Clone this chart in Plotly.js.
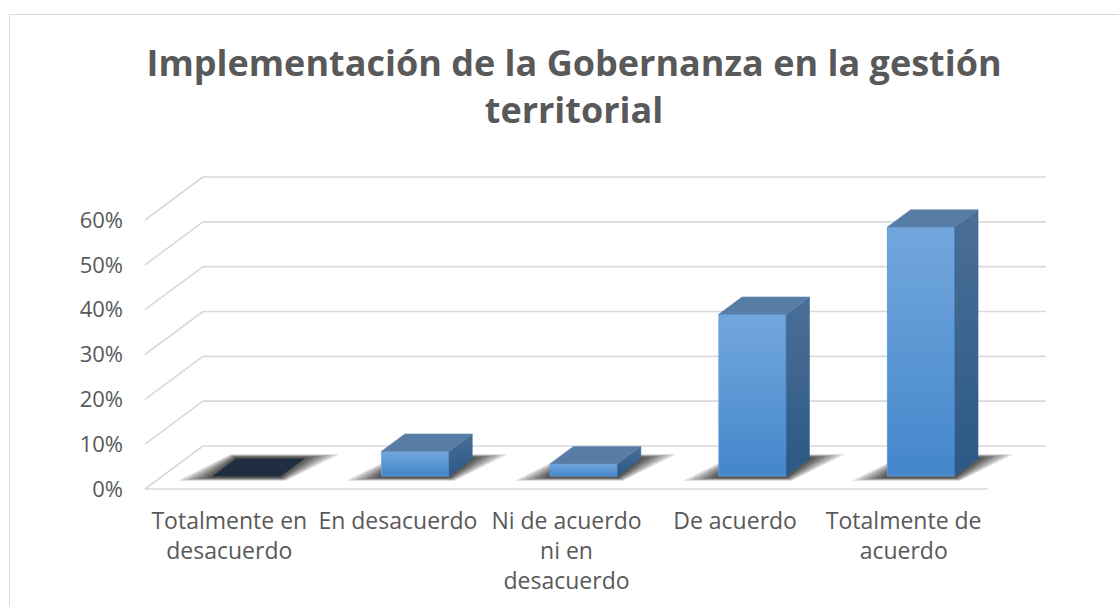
<!DOCTYPE html>
<html>
<head>
<meta charset="utf-8">
<script src="https://cdn.plot.ly/plotly-3.0.1.min.js"></script>
<style>
  html, body { margin: 0; padding: 0; background: #fff; overflow: hidden; }
  #chart { width: 1119px; height: 606px; position: relative; }
  #frame { position: absolute; left: 9px; top: 14px; width: 1200px; height: 700px;
           border: 1px solid #d9d9d9; pointer-events: none; }
</style>
</head>
<body>
<div id="chart"></div>
<div id="frame"></div>
<script>
// ---- data ----
const categories = [
  'Totalmente en<br>desacuerdo',
  'En desacuerdo',
  'Ni de acuerdo<br>ni en<br>desacuerdo',
  'De acuerdo',
  'Totalmente de<br>acuerdo'
];
const values = [0, 5.56, 2.78, 36.11, 55.56];   // percent
const yTicks = [0, 10, 20, 30, 40, 50, 60];
const yTickLabels = ['0%', '10%', '20%', '30%', '40%', '50%', '60%'];
const chartTitle = 'Implementación de la Gobernanza en la gestión<br>territorial';

// ---- 3D geometry (in axis units) ----
const DX = 0.344;   // floor depth along x (category units)
const DY = 9.59;    // floor depth along y (percent units)
const W = 0.4;      // bar width (category units)
const FO = 0.3, BO = 0.7;   // bar front / back depth fractions
const pos = categories.map((_, i) => i);

const xmin = -0.5 - 0.0178, xmax = 4.5 + DX + 0.0178;
const ymin = -0.669, ymax = 60 + DY + 0.669;

// grid lines as shapes
const gridColor = '#d9d9d9';
const shapes = [];
yTicks.forEach(t => {
  shapes.push({type: 'line', xref: 'x', yref: 'y', layer: 'below',
    x0: -0.5, y0: t, x1: -0.5 + DX, y1: t + DY, line: {color: gridColor, width: 1.6}});
  shapes.push({type: 'line', xref: 'x', yref: 'y', layer: 'below',
    x0: -0.5 + DX, y0: t + DY, x1: 4.5 + DX, y1: t + DY, line: {color: gridColor, width: 1.6}});
});
shapes.push({type: 'line', xref: 'x', yref: 'y', layer: 'below',
  x0: -0.5, y0: 0, x1: 4.5, y1: 0, line: {color: gridColor, width: 1.6}});

const traces = [];

// shadows (layered to fake blur)
const shadowLayers = [0.21, 0.18, 0.15, 0.12, 0.095, 0.07, 0.045, 0.02];
pos.forEach(c => {
  const xl = c - W / 2, xr = c + W / 2;
  shadowLayers.forEach((e) => {
    const ey = 0.3 + e * 3.5;
    traces.push({
      type: 'scatter', mode: 'lines', hoverinfo: 'skip', showlegend: false,
      x: [xl + FO * DX - e, xr + FO * DX + e * 0.15, xr + BO * DX + e, xl + BO * DX - e * 0.15, xl + FO * DX - e],
      y: [FO * DY - ey, FO * DY - ey, BO * DY + ey, BO * DY + ey, FO * DY - ey],
      fill: 'toself', fillcolor: 'rgba(0,0,0,0.13)', line: {width: 0}
    });
  });
});

// front faces as a bar trace
traces.push({
  type: 'bar', x: pos.map(c => c + FO * DX), y: values, base: FO * DY,
  width: W, marker: {color: '#5a9ad8', line: {width: 0}},
  hoverinfo: 'skip', showlegend: false
});

pos.forEach((c, i) => {
  const v = values[i];
  const xl = c - W / 2, xr = c + W / 2;
  const yf = FO * DY, yb = BO * DY;
  if (v > 0) {
    // gradient overlay on front face
    traces.push({
      type: 'scatter', mode: 'lines', hoverinfo: 'skip', showlegend: false,
      x: [xl + FO * DX, xr + FO * DX, xr + FO * DX, xl + FO * DX, xl + FO * DX],
      y: [yf, yf, yf + v, yf + v, yf],
      fill: 'toself', line: {width: 0.8, color: '#6aa3dc'},
      fillgradient: {type: 'vertical', colorscale: [[0, '#4486cb'], [1, '#72a7dd']]}
    });
    // side face
    traces.push({
      type: 'scatter', mode: 'lines', hoverinfo: 'skip', showlegend: false,
      x: [xr + FO * DX, xr + BO * DX, xr + BO * DX, xr + FO * DX, xr + FO * DX],
      y: [yf, yb, yb + v, yf + v, yf],
      fill: 'toself', line: {width: 0.6, color: '#3a6591'},
      fillgradient: {type: 'vertical', colorscale: [[0, '#2b5886'], [1, '#4b6f97']]}
    });
  }
  // top face
  traces.push({
    type: 'scatter', mode: 'lines', hoverinfo: 'skip', showlegend: false,
    x: [xl + FO * DX, xr + FO * DX, xr + BO * DX, xl + BO * DX, xl + FO * DX],
    y: [yf + v, yf + v, yb + v, yb + v, yf + v],
    fill: 'toself',
    fillcolor: v > 0 ? '#577ca6' : '#1f2e40',
    line: {width: 0.6, color: v > 0 ? '#6185ae' : '#1f2e40'}
  });
});

const layout = {
  width: 1119, height: 606,
  margin: {l: 142, r: 70, t: 174, b: 114, pad: 0},
  paper_bgcolor: 'rgba(0,0,0,0)', plot_bgcolor: 'rgba(0,0,0,0)',
  title: {
    text: chartTitle,
    font: {family: 'Open Sans, sans-serif', size: 36, color: '#595959', weight: 700},
    x: 0.513, xanchor: 'center', xref: 'container',
    y: 1 - 76 / 606, yanchor: 'top', yref: 'container'
  },
  xaxis: {
    range: [xmin, xmax], tickmode: 'array', tickvals: pos, ticktext: categories,
    showgrid: false, zeroline: false, showline: false, ticks: '',
    tickfont: {family: 'Open Sans, sans-serif', size: 23, color: '#595959'},
    ticklabelstandoff: 13, fixedrange: true
  },
  yaxis: {
    range: [ymin, ymax], tickmode: 'array', tickvals: yTicks, ticktext: yTickLabels,
    showgrid: false, zeroline: false, showline: false, ticks: '',
    tickfont: {family: 'Open Sans, sans-serif', size: 22, color: '#595959'},
    ticklabelstandoff: 18, fixedrange: true
  },
  shapes: shapes,
  bargap: 0, showlegend: false
};

Plotly.newPlot('chart', traces, layout, {displayModeBar: false, staticPlot: true});
</script>
</body>
</html>
